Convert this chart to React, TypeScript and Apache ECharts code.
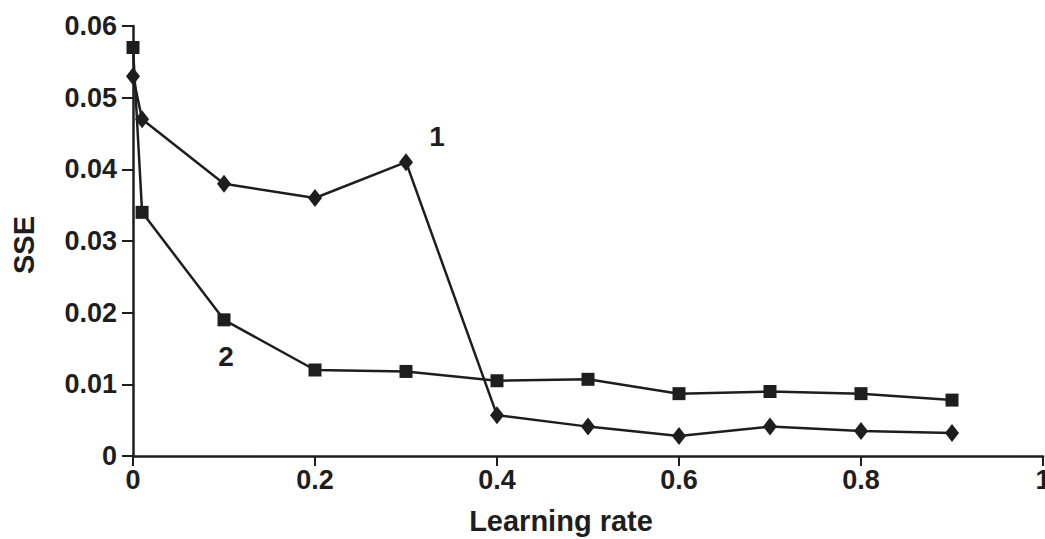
import React, { useEffect, useRef } from "react";
import * as echarts from "echarts";

const learningRates = [0, 0.01, 0.1, 0.2, 0.3, 0.4, 0.5, 0.6, 0.7, 0.8, 0.9];
const series1 = [0.053, 0.047, 0.038, 0.036, 0.041, 0.0057, 0.0041, 0.0028, 0.0041, 0.0035, 0.0032];
const series2 = [0.057, 0.034, 0.019, 0.012, 0.0118, 0.0105, 0.0107, 0.0087, 0.009, 0.0087, 0.0078];
const xTicks = [0, 0.2, 0.4, 0.6, 0.8, 1];
const yTicks = [0, 0.01, 0.02, 0.03, 0.04, 0.05, 0.06];

const FONT = "'Liberation Sans', Arial, sans-serif";
const INK = "#1e1e1e";

export default function App() {
  const ref = useRef<HTMLDivElement>(null);
  useEffect(() => {
    if (!ref.current) return;
    const chart = echarts.init(ref.current, undefined, { renderer: "svg" });
    const fmt = (v: number) => (v === 0 ? "0" : String(Number(v.toFixed(2))));
    chart.setOption({
      animation: false,
      backgroundColor: "#ffffff",
      grid: { left: 133, right: 2, top: 26, bottom: 83, containLabel: false, outerBoundsMode: "none" },
      xAxis: {
        type: "value",
        min: xTicks[0],
        max: xTicks[xTicks.length - 1],
        interval: 0.2,
        splitLine: { show: false },
        axisLine: { onZero: false, lineStyle: { color: INK, width: 2.5 } },
        axisTick: { show: true, length: 10, lineStyle: { color: INK, width: 2 } },
        axisLabel: {
          color: INK,
          fontFamily: FONT,
          fontSize: 27,
          fontWeight: "bold",
          margin: 10,
          formatter: (v: number) => fmt(v),
        },
      },
      yAxis: {
        type: "value",
        min: yTicks[0],
        max: yTicks[yTicks.length - 1],
        interval: 0.01,
        splitLine: { show: false },
        axisLine: { lineStyle: { color: INK, width: 2.5 } },
        axisTick: { show: true, length: 11, lineStyle: { color: INK, width: 2 } },
        axisLabel: {
          color: INK,
          fontFamily: FONT,
          fontSize: 27,
          fontWeight: "bold",
          margin: 16,
          formatter: (v: number) => fmt(v),
        },
      },
      series: [
        {
          type: "line",
          name: "1",
          data: learningRates.map((x, i) => [x, series1[i]]),
          symbol: "diamond",
          symbolSize: [14, 18],
          lineStyle: { color: INK, width: 2.5 },
          itemStyle: { color: INK },
          clip: false,
        },
        {
          type: "line",
          name: "2",
          data: learningRates.map((x, i) => [x, series2[i]]),
          symbol: "rect",
          symbolSize: 13,
          lineStyle: { color: INK, width: 2.5 },
          itemStyle: { color: INK },
          clip: false,
        },
      ],
      graphic: [
        {
          type: "text",
          x: 437,
          y: 136,
          style: { text: "1", fill: INK, font: `bold 28px ${FONT}`, align: "center", verticalAlign: "middle" },
        },
        {
          type: "text",
          x: 226,
          y: 356,
          style: { text: "2", fill: INK, font: `bold 28px ${FONT}`, align: "center", verticalAlign: "middle" },
        },
        {
          type: "text",
          x: 561,
          y: 521,
          style: { text: "Learning rate", fill: INK, font: `bold 29px ${FONT}`, align: "center", verticalAlign: "middle" },
        },
        {
          type: "text",
          x: 24,
          y: 245,
          rotation: Math.PI / 2,
          style: { text: "SSE", fill: INK, font: `bold 29px ${FONT}`, align: "center", verticalAlign: "middle" },
        },
      ],
    });
    return () => chart.dispose();
  }, []);
  return <div ref={ref} style={{ width: 1045, height: 539, position: "absolute", left: 0, top: 0 }} />;
}
